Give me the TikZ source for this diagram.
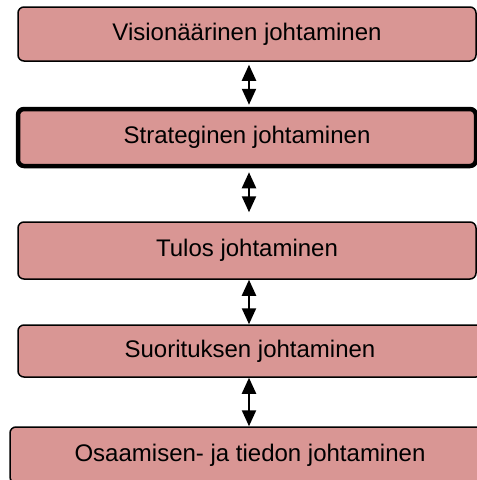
\documentclass[tikz,border=0pt]{standalone}
\usepackage{fontspec}
\setmainfont{Liberation Sans}
\usepackage{tikz}
\usetikzlibrary{arrows.meta}
\definecolor{boxpink}{RGB}{217,150,148}

\begin{document}
\begin{tikzpicture}[
	x=1pt, y=-1pt,
	level/.style={rectangle, rounded corners=6pt, draw, line width=1.5pt, fill=boxpink,
		inner sep=0pt, font=\fontsize{24}{28}\selectfont},
	link/.style={{Triangle[length=16pt,width=14pt]}-{Triangle[length=16pt,width=14pt]}, line width=2.2pt}
	]

	\path[use as bounding box, clip] (0,0) rectangle (477,480);

	% Les tasot
	\node[level, minimum width=458pt, minimum height=54pt] (V) at (247,34) {Visionäärinen johtaminen};
	\node[level, line width=4.5pt, minimum width=458pt, minimum height=57pt] (S) at (247,137.5) {Strateginen johtaminen};
	\node[level, minimum width=458pt, minimum height=57pt] (T) at (247,250.5) {Tulos johtaminen};
	\node[level, minimum width=464pt, minimum height=52pt] (Su) at (250,351) {Suorituksen johtaminen};
	\node[level, minimum width=480pt, minimum height=56pt] (O) at (250,455) {Osaamisen- ja tiedon johtaminen};

	% Les nuolet
	\draw[link, shorten <=3pt, shorten >=2pt] (V.south -| 249,0) -- (S.north -| 249,0);
	\draw[link, shorten <=4pt, shorten >=9pt] (S.south -| 249,0) -- (T.north -| 249,0);
	\draw[link] (T.south -| 249,0) -- (Su.north -| 249,0);
	\draw[link] (Su.south -| 249,0) -- (O.north -| 249,0);
\end{tikzpicture}
\end{document}
